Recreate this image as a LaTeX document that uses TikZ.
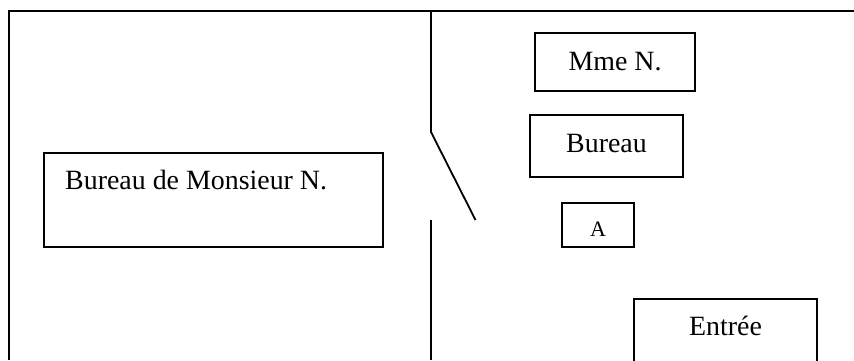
\documentclass[tikz,border=0pt]{standalone}
\usepackage{fontspec}
\setmainfont{Liberation Serif}
\tikzset{
  wall/.style={draw=black,line width=1.8pt},
  roombox/.style={draw=black,line width=1.8pt,fill=white,rectangle,inner sep=0pt},
  bigtext/.style={inner sep=0pt,anchor=base,font=\fontsize{27.9}{30}\selectfont},
  smalltext/.style={inner sep=0pt,anchor=base,font=\fontsize{22}{24}\selectfont}
}
\begin{document}
\begin{tikzpicture}[x=1pt,y=-1pt]
\useasboundingbox (0,0) rectangle (854,360);
\clip (0,0) rectangle (854,360);
\coordinate (frameBL) at (9,360);
\coordinate (frameTL) at (9,11);
\coordinate (frameTR) at (854,11);
\coordinate (wallTop) at (431,11);
\coordinate (hinge) at (431,132);
\coordinate (doorEnd) at (475.5,220);
\coordinate (wallLow) at (431,220);
\coordinate (wallBot) at (431,360);
\draw[wall] (frameBL) -- (frameTL) -- (frameTR);
\draw[wall] (wallTop) -- (hinge) -- (doorEnd);
\draw[wall] (wallLow) -- (wallBot);
\node[roombox,minimum width=339pt,minimum height=94pt] (monsieur) at (213.5,200) {};
\node[roombox,minimum width=160pt,minimum height=58pt] (mme) at (615,62) {};
\node[roombox,minimum width=153pt,minimum height=62pt] (bureau) at (606.5,146) {};
\node[roombox,minimum width=72pt,minimum height=44pt] (a) at (598,225) {};
\node[roombox,minimum width=183pt,minimum height=70pt] (entree) at (725.5,334) {};
\node[bigtext,anchor=base west] (tmonsieur) at (65,189.5) {Bureau de Monsieur N.};
\node[bigtext] (tmme) at (615,70) {Mme N.};
\node[bigtext] (tbureau) at (606.5,152) {Bureau};
\node[smalltext] (ta) at (598,236) {A};
\node[bigtext] (tentree) at (725.5,335) {Entrée};
\end{tikzpicture}
\end{document}
